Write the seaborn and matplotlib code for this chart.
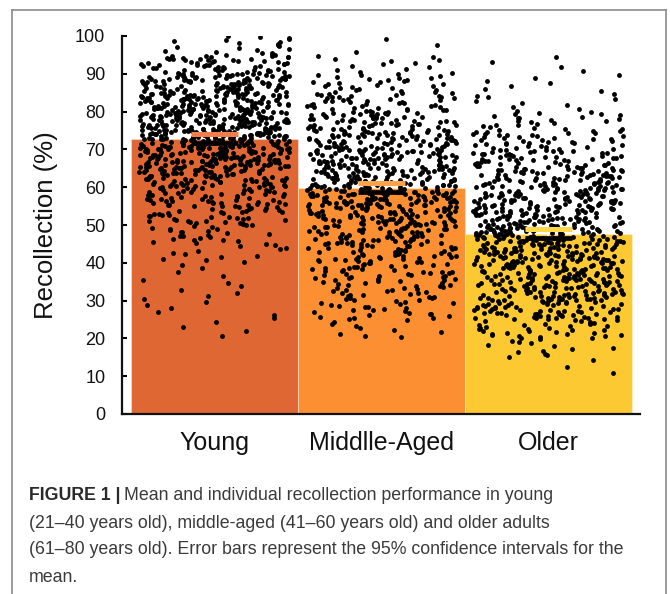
import numpy as np
import pandas as pd
import matplotlib.pyplot as plt
from matplotlib.lines import Line2D
import seaborn as sns

# Groups and bar values
groups = ["Young", "Middlle-Aged", "Older"]
bar_colors = ["#DF6733", "#FC8F32", "#FDC932"]
cap_colors = ["#F27D4B", "#FFA24C", "#FFD94C"]
means = [72.8, 59.8, 47.7]
ci_low = [71.6, 58.6, 46.5]
ci_high = [74.0, 61.2, 49.0]

# Individual scores, read as counts per 5-point bin: 10-15, 15-20, ..., 95-100
bin_starts = list(range(10, 100, 5))
young_counts = [0, 0, 4, 6, 6, 5, 12, 24, 40, 56, 82, 112, 135, 130, 120, 96, 60, 20]
middle_counts = [0, 0, 10, 24, 30, 38, 48, 62, 78, 98, 92, 84, 76, 62, 42, 28, 13, 3]
older_counts = [3, 13, 34, 62, 78, 84, 90, 98, 84, 76, 68, 54, 40, 24, 10, 7, 4, 0]

caption_bold = "FIGURE 1 |"
caption_lines = [
    "Mean and individual recollection performance in young",
    "(21\u201340 years old), middle-aged (41\u201360 years old) and older adults",
    "(61\u201380 years old). Error bars represent the 95% confidence intervals for the",
    "mean.",
]

# expand bin counts to individual points spread through each bin
rows = []
for g, counts in zip(groups, [young_counts, middle_counts, older_counts]):
    for lo, n in zip(bin_starts, counts):
        for v in lo + (np.arange(n) + 0.5) / max(n, 1) * 5:
            rows.append((g, v))
points = pd.DataFrame(rows, columns=["group", "score"])
bars = pd.DataFrame({"group": groups, "score": means})

plt.rcParams['font.family'] = ['Liberation Sans', 'DejaVu Sans']
np.random.seed(3)

W, H = 670, 594
fig = plt.figure(figsize=(W / 100, H / 100), dpi=100)
ax = fig.add_axes([122 / W, 1 - 414 / H, 518 / W, 378 / H])

sns.barplot(data=bars, x="group", y="score", hue="group", order=groups,
            palette=bar_colors, saturation=1, width=1.0, errorbar=None, legend=False,
            edgecolor=(1, 1, 1, 0.35), linewidth=0.8, ax=ax)

# CI stems
for i in range(3):
    ax.vlines(i, ci_low[i], ci_high[i], color="white", lw=1.2, zorder=3)

sns.stripplot(data=points, x="group", y="score", order=groups, color="black",
              jitter=0.45, size=3.5, linewidth=0, ax=ax, zorder=5)

# lower cap black, upper cap in a light tint of the bar colour
for i in range(3):
    ax.hlines(ci_low[i], i - 0.14, i + 0.14, color="black", lw=3.4, zorder=6)
    ax.hlines(ci_high[i], i - 0.14, i + 0.14, color=cap_colors[i], lw=3.6, zorder=6)

ax.set_xlim(-0.554, 2.548)
ax.set_ylim(0, 100)
ax.set_yticks(range(0, 101, 10))
ax.set_xlabel("")
ax.set_ylabel("Recollection (%)", fontsize=18.5, color="#111111")
ax.yaxis.set_label_coords(-0.124, 0.5)
for s in ["top", "right"]:
    ax.spines[s].set_visible(False)
for s in ["left", "bottom"]:
    ax.spines[s].set_linewidth(1.6)
    ax.spines[s].set_color("#111111")
ax.tick_params(axis="y", direction="in", length=3.5, width=1.5, pad=12,
               labelsize=13, labelcolor="#111111")
ax.tick_params(axis="x", length=0, pad=12, labelsize=18, labelcolor="#111111")

# frame around figure + caption
fc = "#8a8a8a"
for xs, ys in [([12, 12], [10, H + 5]), ([12, 666], [10, 10]), ([666, 666], [10, H + 5])]:
    fig.add_artist(Line2D([x / W for x in xs], [1 - y / H for y in ys],
                          color=fc, lw=1.2, transform=fig.transFigure))

line_y = [496, 523, 550, 577]
cap_size = 12.8
tb = fig.text(29 / W, 1 - line_y[0] / H, caption_bold, fontsize=cap_size,
              fontweight="bold", color="#2a2a2a", va="center", ha="left")
fig.canvas.draw()
bold_right = tb.get_window_extent().x1
fig.text((bold_right + 4) / W, 1 - line_y[0] / H, caption_lines[0], fontsize=cap_size,
         color="#3a3a3a", va="center", ha="left")
for txt, y in zip(caption_lines[1:], line_y[1:]):
    fig.text(29 / W, 1 - y / H, txt, fontsize=cap_size, color="#3a3a3a",
             va="center", ha="left")

fig.savefig("out.png", dpi=100)
